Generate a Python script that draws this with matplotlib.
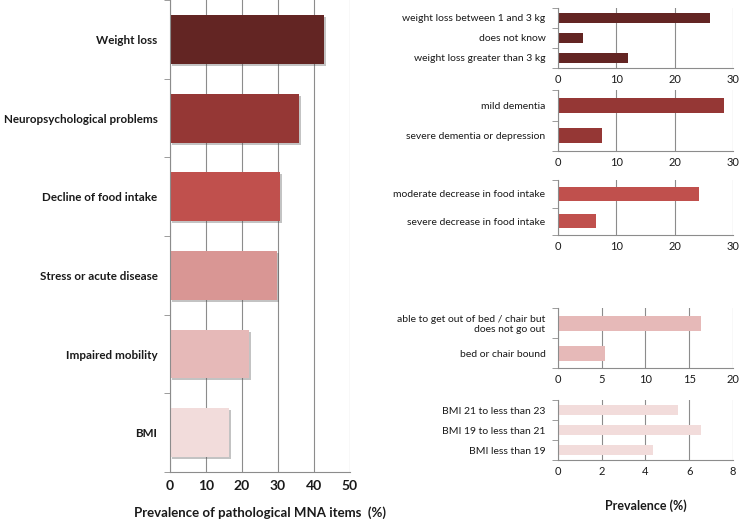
import matplotlib
matplotlib.use("Agg")
import matplotlib.pyplot as plt
import matplotlib.patheffects as pe
import numpy as np

plt.rcParams['font.family'] = ['Lato', 'DejaVu Sans']

# main panel: prevalence of pathological MNA items (%)
main_items = ["Weight loss", "Neuropsychological problems", "Decline of food intake",
              "Stress or acute disease", "Impaired mobility", "BMI"]
main_values = [42.7, 35.9, 30.6, 29.6, 21.9, 16.4]
main_colors = ["#632523", "#953735", "#C0504D", "#D99694", "#E6B9B8", "#F2DCDB"]

# detail panels
weight_labels = ["weight loss between 1 and 3 kg", "does not know", "weight loss greater than 3 kg"]
weight_values = [26.1, 4.3, 12.0]
neuro_labels = ["mild dementia", "severe dementia or depression"]
neuro_values = [28.4, 7.6]
food_labels = ["moderate decrease in food intake", "severe decrease in food intake"]
food_values = [24.1, 6.6]
mobility_labels = ["able to get out of bed / chair but\ndoes not go out", "bed or chair bound"]
mobility_values = [16.4, 5.4]
bmi_labels = ["BMI 21 to less than 23", "BMI 19 to less than 21", "BMI less than 19"]
bmi_values = [5.47, 6.52, 4.35]

GRID = "#8c8c8c"
TEXT = "#1a1a1a"

fig = plt.figure(figsize=(7.4, 5.19), dpi=100)


def style_axis(ax, n, xmax, step, fs, bold=False):
    ax.set_xlim(0, xmax)
    ax.set_ylim(n - 0.5, -0.5)
    ax.set_xticks(np.arange(0, xmax + 0.01, step))
    ax.set_axisbelow(True)
    ax.grid(axis='x', color=GRID, linewidth=0.8)
    for s in ['top', 'right']:
        ax.spines[s].set_visible(False)
    for s in ['left', 'bottom']:
        ax.spines[s].set_color(GRID)
        ax.spines[s].set_linewidth(0.8)
    # category ticks sit at the boundaries between bars
    ax.set_yticks(np.arange(n))
    ax.set_yticks(np.arange(-0.5, n, 1.0), minor=True)
    ax.tick_params(axis='y', which='major', length=0, pad=8)
    ax.tick_params(axis='y', which='minor', length=4, color=GRID)
    ax.tick_params(axis='x', length=0, pad=6, labelsize=fs, colors=TEXT)
    for lbl in ax.get_xticklabels():
        lbl.set_fontweight('bold' if bold else 'normal')


# left main chart
ax = fig.add_axes([0.2297, 0.0906, 0.2432, 0.909])
y = np.arange(len(main_items))
bars = ax.barh(y, main_values, height=0.62, color=main_colors)
for b in bars:
    b.set_path_effects([pe.SimplePatchShadow(offset=(1.5, -1.5), shadow_rgbFace='#555555', alpha=0.35),
                        pe.Normal()])
style_axis(ax, len(main_items), 50, 10, 10, bold=True)
ax.set_yticklabels(main_items, fontsize=8.4, fontweight='bold', color=TEXT)
ax.tick_params(axis='y', which='major', pad=9)
ax.set_xlabel("Prevalence of pathological MNA items  (%)", fontsize=9.5, fontweight='bold',
              color=TEXT, labelpad=10)

# right detail charts (stress has no breakdown)
panels = [
    (weight_labels, weight_values, main_colors[0], 30, 10, [0.754, 0.869, 0.2365, 0.1156]),
    (neuro_labels, neuro_values, main_colors[1], 30, 10, [0.754, 0.709, 0.2365, 0.1175]),
    (food_labels, food_values, main_colors[2], 30, 10, [0.754, 0.547, 0.2365, 0.106]),
    (mobility_labels, mobility_values, main_colors[4], 20, 5, [0.754, 0.2909, 0.2365, 0.1156]),
    (bmi_labels, bmi_values, main_colors[5], 8, 2, [0.754, 0.1136, 0.2365, 0.1156]),
]
for labels, values, color, xmax, step, rect in panels:
    a = fig.add_axes(rect)
    a.barh(np.arange(len(labels)), values, height=0.5, color=color)
    style_axis(a, len(labels), xmax, step, 8)
    a.set_yticklabels(labels, fontsize=7.5, color=TEXT)
    a.tick_params(axis='y', which='major', pad=9)
    a.tick_params(axis='x', pad=4)

a.set_xlabel("Prevalence (%)", fontsize=9, fontweight='bold', color=TEXT, labelpad=16)

fig.savefig("out.png", dpi=100)
